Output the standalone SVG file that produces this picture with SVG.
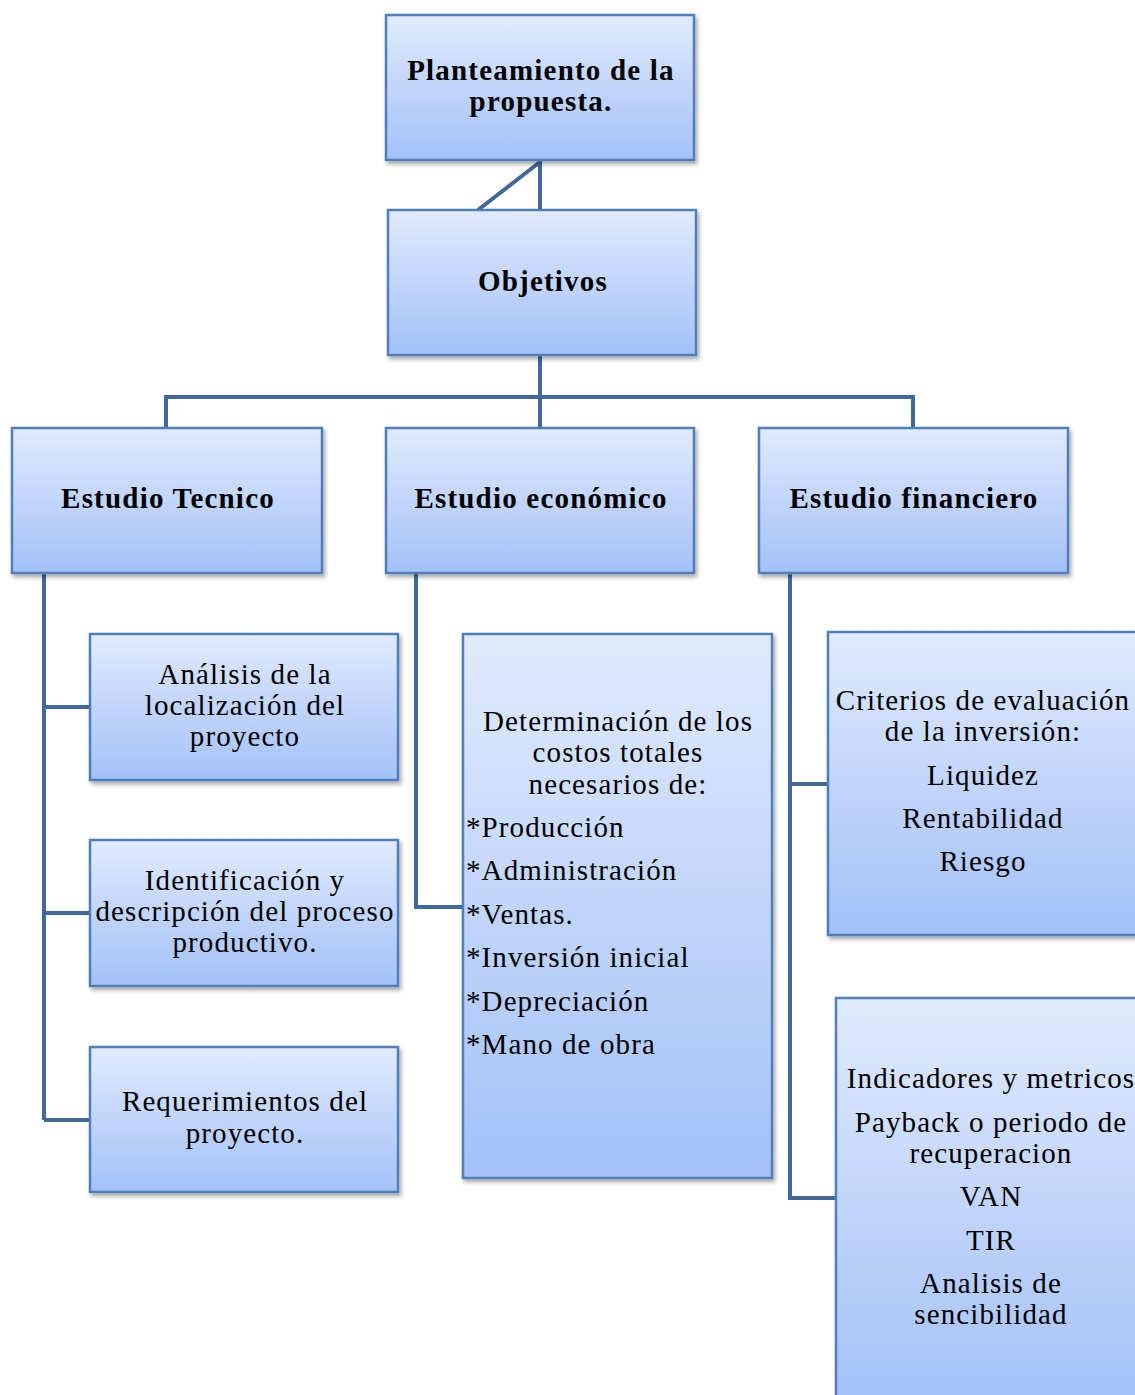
<svg xmlns="http://www.w3.org/2000/svg" width="1135" height="1395" viewBox="0 0 1135 1395">
<defs>
<linearGradient id="g" x1="0" y1="0" x2="0" y2="1">
<stop offset="0" stop-color="#e0ebfd"/>
<stop offset="1" stop-color="#a3c0f8"/>
</linearGradient>
<filter id="sh" x="-5%" y="-5%" width="115%" height="115%">
<feDropShadow dx="2" dy="3" stdDeviation="2" flood-color="#000" flood-opacity="0.35"/>
</filter>
</defs>
<style>
.box{fill:url(#g);stroke:#4f7fba;stroke-width:2.5;filter:url(#sh)}
.con{fill:none;stroke:#41689c;stroke-width:4}
.b{font-family:"Liberation Serif",serif;font-weight:bold;font-size:29px;letter-spacing:1.2px;fill:#000;text-anchor:middle}
.t{font-family:"Liberation Serif",serif;font-size:29px;letter-spacing:1.1px;fill:#000;text-anchor:middle}
.l{font-family:"Liberation Serif",serif;font-size:29px;letter-spacing:1.1px;fill:#000}
</style>
<rect width="1135" height="1395" fill="#fff"/>
<g id="connectors">
<path class="con" d="M540 160 V210 M540 162 L478 210"/>
<path class="con" d="M540 355 V428 M166 428 V397 H913 V428"/>
<path class="con" d="M44 573 V1120 M44 707 H90 M44 913 H90 M44 1120 H90"/>
<path class="con" d="M416 573 V907 H463"/>
<path class="con" d="M790 573 V1198 H836 M790 784 H828"/>
</g>
<g id="n-planteamiento">
<rect class="box" x="386" y="15" width="308" height="145"/>
<text class="b" x="541" y="80">Planteamiento de la</text>
<text class="b" x="541" y="111">propuesta.</text>
</g>
<g id="n-objetivos">
<rect class="box" x="388" y="210" width="308" height="145"/>
<text class="b" x="543" y="291">Objetivos</text>
</g>
<g id="n-tecnico">
<rect class="box" x="12" y="428" width="310" height="145"/>
<text class="b" x="168" y="508">Estudio Tecnico</text>
</g>
<g id="n-economico">
<rect class="box" x="386" y="428" width="308" height="145"/>
<text class="b" x="541" y="508">Estudio económico</text>
</g>
<g id="n-financiero">
<rect class="box" x="759" y="428" width="309" height="145"/>
<text class="b" x="914" y="508">Estudio financiero</text>
</g>
<g id="n-analisis">
<rect class="box" x="90" y="634" width="308" height="146"/>
<text class="t" x="245" y="684">Análisis de la</text>
<text class="t" x="245" y="715">localización del</text>
<text class="t" x="245" y="746">proyecto</text>
</g>
<g id="n-identificacion">
<rect class="box" x="90" y="840" width="308" height="146"/>
<text class="t" x="245" y="890">Identificación y</text>
<text class="t" x="245" y="921" letter-spacing="0.6">descripción del proceso</text>
<text class="t" x="245" y="952">productivo.</text>
</g>
<g id="n-requerimientos">
<rect class="box" x="90" y="1047" width="308" height="145"/>
<text class="t" x="245" y="1111">Requerimientos del</text>
<text class="t" x="245" y="1143">proyecto.</text>
</g>
<g id="n-determinacion">
<rect class="box" x="463" y="634" width="309" height="544"/>
<text class="t" x="618" y="731">Determinación de los</text>
<text class="t" x="618" y="762">costos totales</text>
<text class="t" x="618" y="794">necesarios de:</text>
<text class="l" x="466" y="837">*Producción</text>
<text class="l" x="466" y="880">*Administración</text>
<text class="l" x="466" y="924">*Ventas.</text>
<text class="l" x="466" y="967">*Inversión inicial</text>
<text class="l" x="466" y="1011">*Depreciación</text>
<text class="l" x="466" y="1054">*Mano de obra</text>
</g>
<g id="n-criterios">
<rect class="box" x="828" y="632" width="312" height="303"/>
<text class="t" x="983" y="710">Criterios de evaluación</text>
<text class="t" x="983" y="741">de la inversión:</text>
<text class="t" x="983" y="785">Liquidez</text>
<text class="t" x="983" y="828">Rentabilidad</text>
<text class="t" x="983" y="871">Riesgo</text>
</g>
<g id="n-indicadores">
<rect class="box" x="836" y="998" width="310" height="410"/>
<text class="t" x="991" y="1088">Indicadores y metricos</text>
<text class="t" x="991" y="1132">Payback o periodo de</text>
<text class="t" x="991" y="1163">recuperacion</text>
<text class="t" x="991" y="1206">VAN</text>
<text class="t" x="991" y="1250">TIR</text>
<text class="t" x="991" y="1293">Analisis de</text>
<text class="t" x="991" y="1324">sencibilidad</text>
</g>
</svg>
